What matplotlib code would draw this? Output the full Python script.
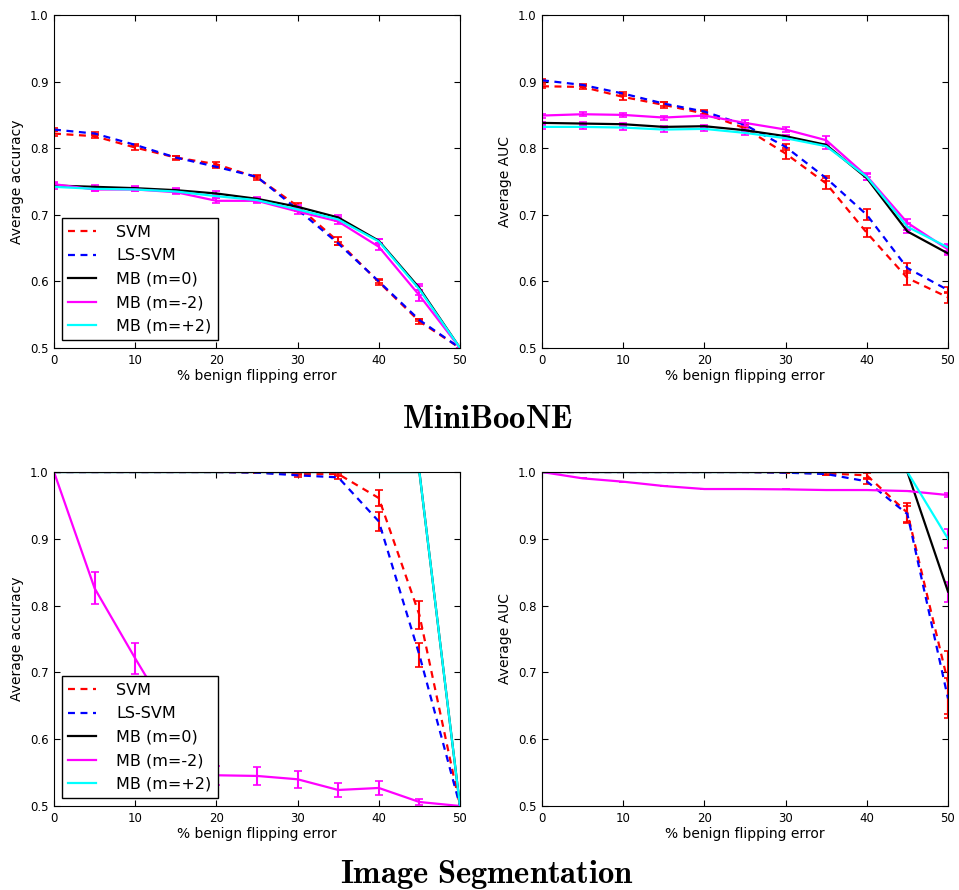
import numpy as np
import matplotlib

matplotlib.use('Agg')
import matplotlib.pyplot as plt

plt.rcParams['mathtext.fontset'] = 'cm'
plt.rcParams['lines.scale_dashes'] = False

# x axis: % benign flipping error
flip = [0, 5, 10, 15, 20, 25, 30, 35, 40, 45, 50]
labels = ['SVM', 'LS-SVM', 'MB (m=0)', 'MB (m=-2)', 'MB (m=+2)']

# MiniBooNE - accuracy
mb_acc_svm = [0.822, 0.818, 0.801, 0.786, 0.776, 0.756, 0.713, 0.660, 0.599, 0.540, 0.500]
mb_acc_lssvm = [0.828, 0.822, 0.805, 0.786, 0.772, 0.757, 0.708, 0.657, 0.600, 0.542, 0.500]
mb_acc_m0 = [0.744, 0.742, 0.740, 0.737, 0.732, 0.724, 0.712, 0.696, 0.661, 0.590, 0.500]
mb_acc_mm2 = [0.746, 0.738, 0.738, 0.734, 0.721, 0.721, 0.705, 0.690, 0.652, 0.579, 0.500]
mb_acc_mp2 = [0.742, 0.739, 0.738, 0.735, 0.728, 0.722, 0.708, 0.693, 0.660, 0.588, 0.500]
mb_acc_svm_err = [0.004, 0.003, 0.004, 0.003, 0.004, 0.004, 0.005, 0.006, 0.004, 0.004, 0.0]
mb_acc_lssvm_err = [0.002, 0.002, 0.002, 0.002, 0.002, 0.002, 0.002, 0.002, 0.002, 0.002, 0.0]
mb_acc_m0_err = [0.003] * 10 + [0.0]
mb_acc_mm2_err = [0.003, 0.003, 0.003, 0.003, 0.004, 0.003, 0.004, 0.004, 0.005, 0.008, 0.0]
mb_acc_mp2_err = [0.003, 0.003, 0.003, 0.003, 0.003, 0.003, 0.003, 0.003, 0.004, 0.008, 0.0]

# MiniBooNE - AUC
mb_auc_svm = [0.893, 0.892, 0.877, 0.865, 0.852, 0.830, 0.792, 0.747, 0.673, 0.605, 0.576]
mb_auc_lssvm = [0.902, 0.895, 0.882, 0.867, 0.855, 0.835, 0.802, 0.755, 0.700, 0.620, 0.587]
mb_auc_m0 = [0.838, 0.837, 0.836, 0.832, 0.833, 0.827, 0.818, 0.805, 0.755, 0.675, 0.642]
mb_auc_mm2 = [0.849, 0.851, 0.850, 0.846, 0.849, 0.838, 0.828, 0.812, 0.758, 0.688, 0.648]
mb_auc_mp2 = [0.832, 0.832, 0.831, 0.828, 0.829, 0.823, 0.815, 0.803, 0.757, 0.682, 0.651]
mb_auc_svm_err = [0.003, 0.003, 0.004, 0.004, 0.004, 0.005, 0.008, 0.008, 0.007, 0.010, 0.008]
mb_auc_lssvm_err = [0.002, 0.002, 0.003, 0.003, 0.003, 0.003, 0.004, 0.004, 0.008, 0.007, 0.004]
mb_auc_m0_err = [0.002] * 11
mb_auc_mm2_err = [0.003, 0.003, 0.003, 0.003, 0.003, 0.004, 0.004, 0.006, 0.005, 0.006, 0.007]
mb_auc_mp2_err = [0.003, 0.003, 0.003, 0.003, 0.003, 0.003, 0.003, 0.004, 0.004, 0.005, 0.005]

# Image Segmentation - accuracy
is_acc_svm = [1.0, 1.0, 1.0, 1.0, 1.0, 0.999, 0.997, 0.997, 0.961, 0.786, 0.500]
is_acc_lssvm = [1.0, 1.0, 1.0, 1.0, 1.0, 0.999, 0.995, 0.992, 0.926, 0.726, 0.500]
is_acc_m0 = [1.0, 1.0, 1.0, 1.0, 1.0, 1.0, 1.0, 1.0, 1.0, 1.0, 0.500]
is_acc_mm2 = [1.0, 0.826, 0.721, 0.620, 0.546, 0.545, 0.540, 0.524, 0.527, 0.506, 0.500]
is_acc_mp2 = [1.0, 1.0, 1.0, 1.0, 1.0, 1.0, 1.0, 1.0, 1.0, 1.0, 0.500]
is_acc_svm_err = [0.0, 0.0, 0.0, 0.0, 0.0, 0.0, 0.002, 0.002, 0.012, 0.021, 0.0]
is_acc_lssvm_err = [0.0, 0.0, 0.0, 0.0, 0.0, 0.0, 0.002, 0.002, 0.014, 0.018, 0.0]
is_acc_m0_err = [0.0] * 11
is_acc_mm2_err = [0.0, 0.024, 0.023, 0.020, 0.014, 0.014, 0.013, 0.011, 0.011, 0.005, 0.0]
is_acc_mp2_err = [0.0] * 11

# Image Segmentation - AUC
is_auc_svm = [1.0, 1.0, 1.0, 1.0, 1.0, 1.0, 0.999, 0.998, 0.995, 0.939, 0.685]
is_auc_lssvm = [1.0, 1.0, 1.0, 1.0, 1.0, 1.0, 0.999, 0.997, 0.986, 0.937, 0.661]
is_auc_m0 = [1.0, 1.0, 1.0, 1.0, 1.0, 1.0, 1.0, 1.0, 1.0, 1.0, 0.821]
is_auc_mm2 = [1.0, 0.9905, 0.9855, 0.979, 0.9745, 0.9745, 0.974, 0.973, 0.973, 0.9715, 0.9655]
is_auc_mp2 = [1.0, 1.0, 1.0, 1.0, 1.0, 1.0, 1.0, 1.0, 1.0, 1.0, 0.900]
is_auc_svm_err = [0.0, 0.0, 0.0, 0.0, 0.0, 0.0, 0.0, 0.002, 0.004, 0.015, 0.047]
is_auc_lssvm_err = [0.0, 0.0, 0.0, 0.0, 0.0, 0.0, 0.0, 0.002, 0.004, 0.012, 0.030]
is_auc_m0_err = [0.0] * 10 + [0.015]
is_auc_mm2_err = [0.0] * 10 + [0.003]
is_auc_mp2_err = [0.0] * 10 + [0.014]

yticks = [0.5, 0.6, 0.7, 0.8, 0.9, 1.0]
xticks = [0, 10, 20, 30, 40, 50]

colors = ['#ff0000', '#0000ff', '#000000', '#ff00ff', '#00ffff']
ecolors = ['#ff0000', '#ff0000', '#ff00ff', '#ff00ff', '#ff00ff']
styles = ['--', '--', '-', '-', '-']


def draw_panel(ax, series, errs, ylabel, show_legend):
    for i in range(len(series)):
        ax.errorbar(flip, series[i], yerr=errs[i], color=colors[i], ecolor=ecolors[i],
                    linestyle=styles[i], dashes=(5, 4) if styles[i] == '--' else (None, None),
                    lw=1.6, elinewidth=1.5, capsize=3, capthick=1.2, label=labels[i])
    ax.set_xlim(0, 50)
    ax.set_ylim(0.5, 1.0)
    ax.set_xticks(xticks)
    ax.set_yticks(yticks)
    ax.set_yticklabels(['%.1f' % t for t in yticks])
    ax.tick_params(direction='in', top=True, right=True, length=4, labelsize=8.5, pad=4)
    ax.set_xlabel('% benign flipping error', fontsize=10, labelpad=2)
    ax.set_ylabel(ylabel, fontsize=10, labelpad=4)
    if show_legend:
        # legend shows plain lines only
        handles, lbls = ax.get_legend_handles_labels()
        handles = [h[0] for h in handles]
        leg = ax.legend(handles, lbls, loc='lower left', fontsize=11.5, fancybox=False,
                        framealpha=1, edgecolor='k', handlelength=1.7, handletextpad=1.3,
                        labelspacing=0.53, borderaxespad=0.5)
        leg.get_frame().set_linewidth(1.0)


fig = plt.figure(figsize=(9.59, 8.9), dpi=100)
W, H = 959.0, 890.0
ax1 = fig.add_axes([54 / W, 1 - 348 / H, 406 / W, 333 / H])
ax2 = fig.add_axes([542 / W, 1 - 348 / H, 406 / W, 333 / H])
ax3 = fig.add_axes([54 / W, 1 - 806 / H, 406 / W, 334 / H])
ax4 = fig.add_axes([542 / W, 1 - 806 / H, 406 / W, 334 / H])

draw_panel(ax1, [mb_acc_svm, mb_acc_lssvm, mb_acc_m0, mb_acc_mm2, mb_acc_mp2],
           [mb_acc_svm_err, mb_acc_lssvm_err, mb_acc_m0_err, mb_acc_mm2_err, mb_acc_mp2_err],
           'Average accuracy', True)
draw_panel(ax2, [mb_auc_svm, mb_auc_lssvm, mb_auc_m0, mb_auc_mm2, mb_auc_mp2],
           [mb_auc_svm_err, mb_auc_lssvm_err, mb_auc_m0_err, mb_auc_mm2_err, mb_auc_mp2_err],
           'Average AUC', False)
draw_panel(ax3, [is_acc_svm, is_acc_lssvm, is_acc_m0, is_acc_mm2, is_acc_mp2],
           [is_acc_svm_err, is_acc_lssvm_err, is_acc_m0_err, is_acc_mm2_err, is_acc_mp2_err],
           'Average accuracy', True)
draw_panel(ax4, [is_auc_svm, is_auc_lssvm, is_auc_m0, is_auc_mm2, is_auc_mp2],
           [is_auc_svm_err, is_auc_lssvm_err, is_auc_m0_err, is_auc_mm2_err, is_auc_mp2_err],
           'Average AUC', False)

fig.text(487 / W, 1 - 428 / H, r'$\mathbf{MiniBooNE}$', fontsize=23.5, ha='center', va='baseline')
fig.text(487 / W, 1 - 883 / H, r'$\mathbf{Image\ Segmentation}$', fontsize=23.5,
         ha='center', va='baseline')

fig.savefig('out.png', dpi=100)
plt.close('all')
